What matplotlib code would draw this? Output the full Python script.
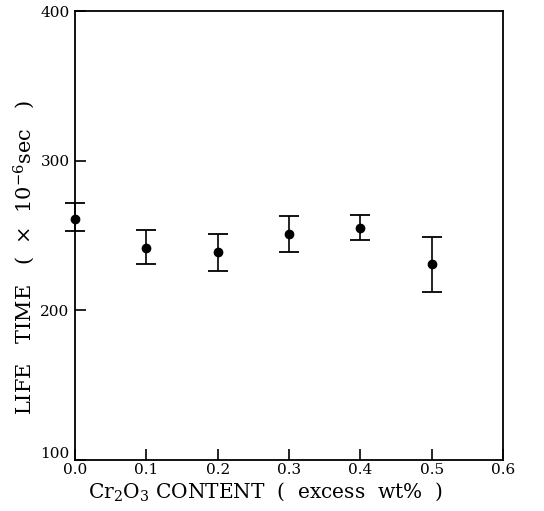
import matplotlib.pyplot as plt
import matplotlib.transforms as mtransforms
import numpy as np

plt.rcParams['font.family'] = ['DejaVu Serif']
plt.rcParams['mathtext.fontset'] = 'dejavuserif'

content = [0.0, 0.1, 0.2, 0.3, 0.4, 0.5]
life = [261, 242, 239, 251, 255, 231]
err_hi = [272, 254, 251, 263, 264, 249]
err_lo = [253, 231, 226, 239, 247, 212]

life = np.array(life)
yerr = [life - np.array(err_lo), np.array(err_hi) - life]

fig = plt.figure(figsize=(5.44, 5.11), dpi=100)
ax = fig.add_axes([0.138, 0.1, 0.787, 0.878])

ax.errorbar(content, life, yerr=yerr, fmt='o', color='black', ms=6,
            capsize=7, capthick=1.3, elinewidth=1.2, clip_on=False)

ax.set_xlim(0, 0.6)
ax.set_ylim(100, 400)
ax.set_xticks([0.0, 0.1, 0.2, 0.3, 0.4, 0.5, 0.6])
ax.set_yticks([100, 200, 300, 400])
ax.set_xticklabels(['0.0', '0.1', '0.2', '0.3', '0.4', '0.5', '0.6'])
ax.tick_params(direction='in', length=8, width=1.2, labelsize=11, pad=2)
ax.tick_params(axis='y', pad=4)
for s in ax.spines.values():
    s.set_linewidth(1.3)

# lift the "100" label so it sits above the "0.0" label
lab100 = ax.get_yticklabels()[0]
lab100.set_transform(lab100.get_transform() +
                     mtransforms.ScaledTranslation(0, 5 / 72, fig.dpi_scale_trans))

ax.set_xlabel(r'Cr$_2$O$_3$ CONTENT  (  excess  wt%  )', fontsize=14.5, labelpad=2)
ax.xaxis.set_label_coords(0.444, -0.045, transform=ax.transAxes)
ax.xaxis.label.set_va('top')
ax.set_ylabel(r'LIFE   TIME   (  $\times$  10$^{-6}$sec   )', fontsize=15, labelpad=4)
ax.yaxis.set_label_coords(-0.09, 0.45)

fig.savefig('out.png', dpi=100)
